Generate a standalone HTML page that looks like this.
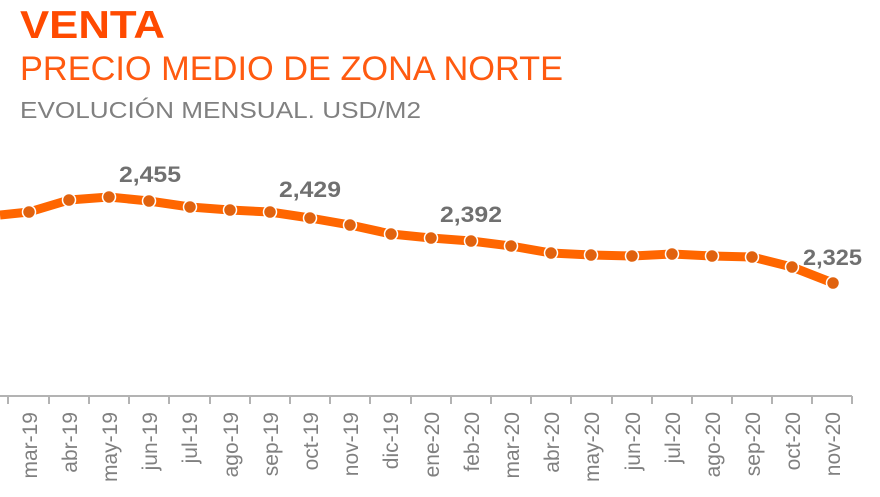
<!DOCTYPE html>
<html><head><meta charset="utf-8"><style>body{margin:0;background:#fff}svg{display:block}</style></head><body>
<svg width="880" height="497" xmlns="http://www.w3.org/2000/svg" font-family="Liberation Sans, sans-serif">
<text x="20" y="38" font-size="39" font-weight="bold" fill="#FF4A00" textLength="145" lengthAdjust="spacingAndGlyphs">VENTA</text>
<text x="20" y="80" font-size="34" fill="#FF5A10" textLength="543" lengthAdjust="spacingAndGlyphs">PRECIO MEDIO DE ZONA NORTE</text>
<text x="20" y="118" font-size="23" fill="#808080" textLength="401" lengthAdjust="spacingAndGlyphs">EVOLUCIÓN MENSUAL. USD/M2</text>
<line x1="0" y1="396" x2="852" y2="396" stroke="#b3b3b3" stroke-width="2"/>
<g stroke="#b3b3b3" stroke-width="2">
<line x1="8" y1="396" x2="8" y2="404"/><line x1="49" y1="396" x2="49" y2="404"/><line x1="89" y1="396" x2="89" y2="404"/><line x1="129" y1="396" x2="129" y2="404"/><line x1="169" y1="396" x2="169" y2="404"/><line x1="210" y1="396" x2="210" y2="404"/><line x1="250" y1="396" x2="250" y2="404"/><line x1="290" y1="396" x2="290" y2="404"/><line x1="330" y1="396" x2="330" y2="404"/><line x1="370" y1="396" x2="370" y2="404"/><line x1="411" y1="396" x2="411" y2="404"/><line x1="451" y1="396" x2="451" y2="404"/><line x1="491" y1="396" x2="491" y2="404"/><line x1="531" y1="396" x2="531" y2="404"/><line x1="571" y1="396" x2="571" y2="404"/><line x1="612" y1="396" x2="612" y2="404"/><line x1="652" y1="396" x2="652" y2="404"/><line x1="692" y1="396" x2="692" y2="404"/><line x1="732" y1="396" x2="732" y2="404"/><line x1="772" y1="396" x2="772" y2="404"/><line x1="812" y1="396" x2="812" y2="404"/><line x1="852" y1="396" x2="852" y2="404"/>
</g>
<g font-size="21" fill="#808080" text-anchor="end">
<text transform="translate(37,412) rotate(-90)">mar-19</text>
<text transform="translate(77,412) rotate(-90)">abr-19</text>
<text transform="translate(117,412) rotate(-90)">may-19</text>
<text transform="translate(157,412) rotate(-90)">jun-19</text>
<text transform="translate(197,412) rotate(-90)">jul-19</text>
<text transform="translate(238,412) rotate(-90)">ago-19</text>
<text transform="translate(278,412) rotate(-90)">sep-19</text>
<text transform="translate(318,412) rotate(-90)">oct-19</text>
<text transform="translate(358,412) rotate(-90)">nov-19</text>
<text transform="translate(398,412) rotate(-90)">dic-19</text>
<text transform="translate(439,412) rotate(-90)">ene-20</text>
<text transform="translate(479,412) rotate(-90)">feb-20</text>
<text transform="translate(519,412) rotate(-90)">mar-20</text>
<text transform="translate(559,412) rotate(-90)">abr-20</text>
<text transform="translate(599,412) rotate(-90)">may-20</text>
<text transform="translate(640,412) rotate(-90)">jun-20</text>
<text transform="translate(680,412) rotate(-90)">jul-20</text>
<text transform="translate(720,412) rotate(-90)">ago-20</text>
<text transform="translate(760,412) rotate(-90)">sep-20</text>
<text transform="translate(800,412) rotate(-90)">oct-20</text>
<text transform="translate(840,412) rotate(-90)">nov-20</text>
</g>
<polyline fill="none" stroke="#FF6600" stroke-width="9" stroke-linejoin="round" points="0,215 29,212 69,200 109,197 149,201 190,207 230,210 270,212 310,218 350,225 391,234 431,238 471,241 511,246 551,253 591,255 632,256 672,254 712,256 752,257 792,267 833,283"/>
<g fill="#E0620E" stroke="#fff" stroke-width="1.5">
<circle cx="29" cy="212" r="6.5"/><circle cx="69" cy="200" r="6.5"/><circle cx="109" cy="197" r="6.5"/><circle cx="149" cy="201" r="6.5"/><circle cx="190" cy="207" r="6.5"/><circle cx="230" cy="210" r="6.5"/><circle cx="270" cy="212" r="6.5"/><circle cx="310" cy="218" r="6.5"/><circle cx="350" cy="225" r="6.5"/><circle cx="391" cy="234" r="6.5"/><circle cx="431" cy="238" r="6.5"/><circle cx="471" cy="241" r="6.5"/><circle cx="511" cy="246" r="6.5"/><circle cx="551" cy="253" r="6.5"/><circle cx="591" cy="255" r="6.5"/><circle cx="632" cy="256" r="6.5"/><circle cx="672" cy="254" r="6.5"/><circle cx="712" cy="256" r="6.5"/><circle cx="752" cy="257" r="6.5"/><circle cx="792" cy="267" r="6.5"/><circle cx="833" cy="283" r="6.5"/>
</g>
<g font-size="22" font-weight="bold" fill="#707070">
<text x="119" y="182" textLength="62" lengthAdjust="spacingAndGlyphs">2,455</text>
<text x="279" y="197" textLength="62" lengthAdjust="spacingAndGlyphs">2,429</text>
<text x="440" y="222" textLength="62" lengthAdjust="spacingAndGlyphs">2,392</text>
<text x="803" y="265" textLength="59" lengthAdjust="spacingAndGlyphs">2,325</text>
</g>
</svg>
</body></html>
